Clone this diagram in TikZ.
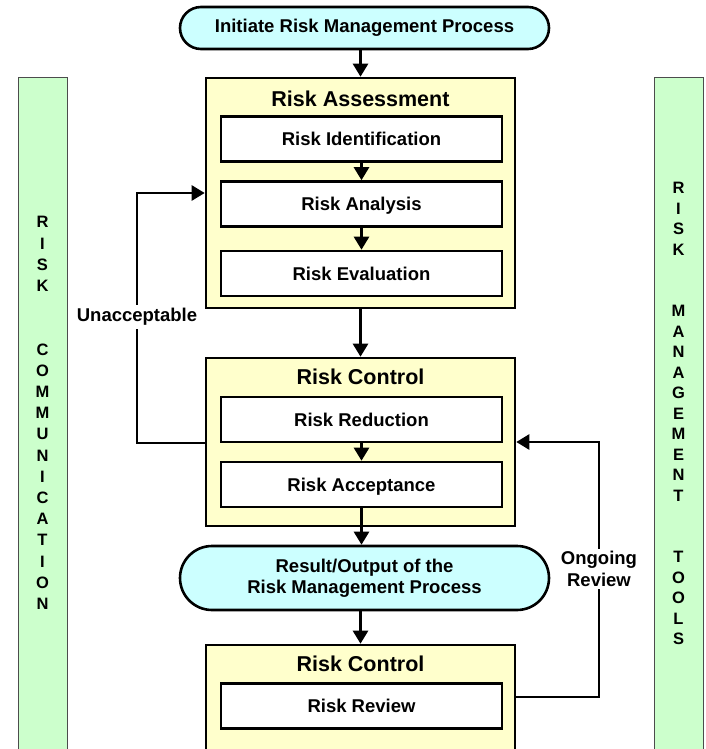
\documentclass[tikz,border=0pt]{standalone}
\usepackage{fontspec}
\setmainfont{Liberation Sans}
\usetikzlibrary{arrows.meta}
\definecolor{ylw}{HTML}{FFFFCC}
\definecolor{cyn}{HTML}{CCFFFF}
\definecolor{grn}{HTML}{CCFFCC}
\begin{document}
\begin{tikzpicture}[x=1pt,y=-1pt,
  lbl/.style={font=\bfseries\fontsize{18.5}{21.3}\selectfont, align=center, inner sep=0pt},
  ttl/.style={font=\bfseries\fontsize{21.5}{24}\selectfont, inner sep=0pt},
  outerbox/.style={draw, line width=2.6pt, fill=ylw, minimum width=309pt, inner sep=0pt},
  innerbox/.style={lbl, draw, line width=2.6pt, fill=white, minimum width=281pt, minimum height=45pt, text height=13.3pt, text depth=0pt},
  term/.style={lbl, draw, line width=2.6pt, fill=cyn, minimum width=369pt},
  arr/.style={line width=2.6pt, -{Triangle[width=15pt,length=13pt]}},
  sidebar/.style={draw=black!70, line width=1pt, fill=grn, minimum width=49pt, inner sep=0pt},
  sidetxt/.style={font=\bfseries\fontsize{16.5}{#1}\selectfont, align=center, inner sep=0pt},
  gaplbl/.style={lbl, fill=white, inner xsep=1pt, inner ysep=3pt}
]
\clip (0,0) rectangle (706,749);

% side bars
\node[sidebar, minimum height=682pt] (lbar) at (42.5,419) {};
\node[sidebar, minimum height=682pt] (rbar) at (678.5,419) {};
\node[sidetxt=21.2pt] (ltxt) at (42.5,413) {R\\I\\S\\K\\~\\~\\C\\O\\M\\M\\U\\N\\I\\C\\A\\T\\I\\O\\N};
\node[sidetxt=20.5pt] (rtxt) at (678.5,413.5) {R\\I\\S\\K\\~\\~\\M\\A\\N\\A\\G\\E\\M\\E\\N\\T\\~\\~\\T\\O\\O\\L\\S};

% start terminal
\node[term, minimum height=42pt, rounded corners=21pt] (init) at (364.5,28) {Initiate Risk Management Process};

% Risk Assessment
\node[outerbox, minimum height=230pt] (RA) at (360.5,193) {};
\node[ttl] (RAt) at (360.5,99) {Risk Assessment};
\node[innerbox] (RI) at (361.5,139) {Risk Identification};
\node[innerbox] (RAn) at (361.5,204) {Risk Analysis};
\node[innerbox] (RE) at (361.5,273.5) {Risk Evaluation};

% Risk Control
\node[outerbox, minimum height=168pt] (RC) at (360.5,442) {};
\node[ttl] (RCt) at (360.5,377) {Risk Control};
\node[innerbox] (RR) at (361.5,419.5) {Risk Reduction};
\node[innerbox] (RAc) at (361.5,484.5) {Risk Acceptance};

% result terminal
\node[term, minimum height=64pt, rounded corners=32pt] (res) at (364.5,578) {Result/Output of the\\Risk Management Process};

% Risk Control (review)
\node[outerbox, minimum height=110pt] (RC2) at (360.5,700) {};
\node[ttl] (RC2t) at (360.5,664) {Risk Control};
\node[innerbox] (RV) at (361.5,706) {Risk Review};

% vertical flow
\draw[arr] (init.south -| RA.north) -- (RA.north);
\draw[arr] (RI) -- (RAn);
\draw[arr] (RAn) -- (RE);
\draw[arr] (RA) -- (RC);
\draw[arr] (RR) -- (RAc);
\draw[arr] (RAc.south) -- (res.north -| RAc.south);
\draw[arr] (res.south -| RC2.north) -- (RC2.north);

% unacceptable loop
\coordinate (u1) at (137,443);
\coordinate (u2) at (137,193);
\draw[arr] (RC.west |- u1) -- (u1) -- (u2) -- (RA.west |- u2);
\node[gaplbl] (ulab) at (137,317) {Unacceptable};

% ongoing review loop
\coordinate (o1) at (599,697);
\coordinate (o2) at (599,442);
\draw[arr] (RC2.east |- o1) -- (o1) -- (o2) -- (RC.east |- o2);
\node[gaplbl] (olab) at (599,569) {Ongoing\\Review};
\end{tikzpicture}
\end{document}
